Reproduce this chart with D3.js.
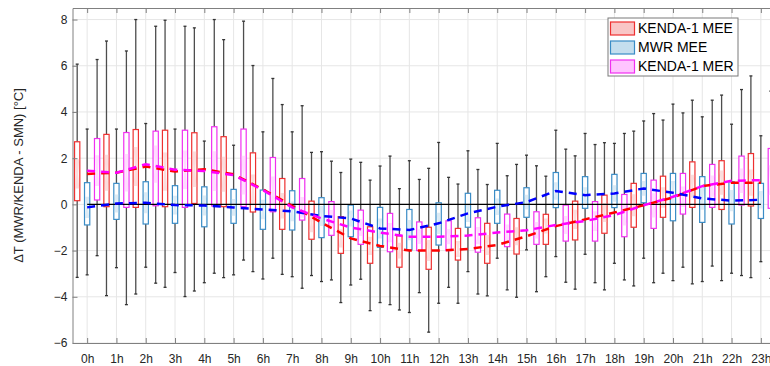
<!DOCTYPE html>
<html>
<head>
<meta charset="utf-8">
<script src="https://cdn.jsdelivr.net/npm/d3@7"></script>
<style>
  body { margin: 0; background: #fff; }
  svg { display: block; font-family: "Liberation Sans", Arial, sans-serif; }
  .axis text { fill: #262626; font-size: 12px; }
  .axis path, .axis line { stroke: #808080; }
</style>
</head>
<body>
<svg id="chart" width="770" height="366"></svg>
<script>
// data
const hours = d3.range(0, 24);
const yTicks = [-6, -4, -2, 0, 2, 4, 6, 8];
const seriesNames = ["KENDA-1 MEE", "MWR MEE", "KENDA-1 MER"];

// KENDA-1 MEE
const meeHigh = [6.07, 7.07, 8.0, 7.97, 7.64, 7.13, 6.01, 4.32, 2.25, 1.38, 1.05, 0.68, 1.56, 0.88, 0.86, 1.73, 1.22, 2.1, 2.67, 3.17, 3.65, 4.51, 4.73, 5.56];
const meeQ3 = [2.71, 3.03, 3.24, 3.21, 3.10, 2.93, 2.23, 1.12, 0.14, -0.53, -0.97, -1.36, -0.99, -1.04, -0.82, -0.61, -0.43, 0.14, 0.40, 0.91, 1.22, 1.84, 1.89, 2.20];
const meeMed = [1.32, 1.37, 1.64, 1.42, 1.52, 1.3, 0.65, -0.06, -0.79, -1.47, -1.8, -2.0, -2.0, -1.93, -1.76, -1.38, -0.94, -0.65, -0.35, -0.04, 0.3, 0.79, 0.94, 0.94];
const meeQ1 = [0.16, -0.10, -0.13, -0.10, 0.04, -0.10, -0.33, -1.08, -1.51, -2.12, -2.55, -2.72, -2.81, -2.41, -2.55, -2.15, -1.73, -1.54, -1.25, -0.99, -0.56, -0.13, -0.22, -0.07];
const meeLow = [-3.16, -3.95, -3.88, -3.59, -3.75, -3.17, -2.91, -3.03, -3.08, -4.25, -4.6, -4.57, -5.53, -4.28, -3.96, -4.02, -3.13, -3.67, -3.70, -3.53, -2.98, -3.44, -3.30, -3.17];

// MWR MEE
const mwrHigh = [3.26, 3.26, 3.5, 3.26, 2.74, 2.56, 3.14, 3.14, 2.28, 1.96, 1.66, 1.89, 2.68, 2.32, 2.64, 2.13, 3.21, 3.07, 2.64, 3.61, 4.34, 3.79, 3.47, 2.97];
const mwrQ3 = [0.94, 0.91, 0.98, 0.81, 0.76, 0.65, 0.62, 0.59, 0.29, -0.03, -0.13, -0.22, 0.07, 0.48, 0.61, 0.72, 1.38, 1.20, 1.30, 1.34, 1.34, 1.20, 0.98, 0.91];
const mwrMed = [-0.13, 0.04, 0.07, -0.03, -0.05, -0.13, -0.22, -0.3, -0.5, -0.61, -1.04, -1.11, -0.82, -0.39, -0.1, 0.1, 0.58, 0.4, 0.47, 0.69, 0.5, 0.26, 0.16, 0.2];
const mwrQ1 = [-0.89, -0.65, -0.85, -0.82, -0.97, -0.82, -1.08, -1.11, -1.44, -1.40, -1.86, -1.97, -1.76, -0.99, -0.82, -0.56, -0.14, -0.17, -0.14, 0.07, -0.71, -0.78, -0.85, -0.61];
const mwrLow = [-3.05, -2.74, -2.72, -2.95, -3.39, -3.05, -3.23, -3.13, -3.34, -3.49, -4.25, -4.68, -4.28, -2.91, -2.33, -1.97, -2.26, -2.16, -2.55, -2.33, -3.30, -3.34, -2.98, -2.48];

// KENDA-1 MER
const merHigh = [6.27, 6.64, 7.71, 7.71, 8.0, 7.93, 5.45, 4.27, 1.87, 1.82, 2.09, 1.08, 1.17, 1.51, 1.24, 1.67, 2.39, 2.59, 3.07, 3.93, 3.96, 4.51, 4.97, 4.9];
const merQ3 = [2.85, 3.11, 3.17, 3.21, 3.36, 3.26, 2.03, 1.12, 0.12, -0.25, -0.39, -0.76, -0.71, -0.58, -0.42, -0.32, -0.03, 0.12, 0.43, 1.05, 1.34, 1.73, 2.09, 2.42];
const merMed = [1.46, 1.37, 1.74, 1.5, 1.44, 1.27, 0.62, -0.13, -0.61, -1.0, -1.22, -1.4, -1.4, -1.35, -1.22, -1.12, -0.89, -0.72, -0.46, -0.04, 0.33, 0.79, 1.02, 1.05];
const merQ1 = [0.19, -0.13, -0.06, -0.13, -0.07, -0.10, -0.32, -0.68, -1.34, -1.73, -2.05, -2.0, -2.0, -2.07, -1.83, -1.73, -1.59, -1.59, -1.40, -1.04, -0.42, -0.13, -0.03, -0.17];
const merLow = [-2.22, -4.34, -3.41, -3.99, -2.98, -2.41, -2.33, -3.63, -3.27, -3.24, -4.34, -3.82, -3.59, -3.88, -3.70, -3.78, -3.37, -3.39, -3.27, -3.39, -2.72, -2.67, -3.08, -3.2];

// styles
const boxColors = ["#ee3030", "#3a8cc6", "#f030f0"];
const lightColors = ["#f9c6c6", "#c4deee", "#ffc4ff"];
const lineColors = ["#ff0000", "#0000ff", "#ff00ff"];
const offsets = [-0.34, 0, 0.34];

const series = [
  { low: meeLow, q1: meeQ1, med: meeMed, q3: meeQ3, high: meeHigh },
  { low: mwrLow, q1: mwrQ1, med: mwrMed, q3: mwrQ3, high: mwrHigh },
  { low: merLow, q1: merQ1, med: merMed, q3: merQ3, high: merHigh }
];

const svg = d3.select("#chart");
const x = d3.scaleLinear().domain([-0.5, 23.5]).range([72.5, 775.5]);
const y = d3.scaleLinear().domain([-6, 8.5]).range([343, 8]);

// grid
const grid = svg.append("g");
grid.selectAll(".vg").data(hours).enter().append("line")
  .attr("x1", d => x(d)).attr("x2", d => x(d))
  .attr("y1", y(8.5)).attr("y2", y(-6))
  .attr("stroke", "#e6e6e6");
grid.selectAll(".hg").data(yTicks).enter().append("line")
  .attr("x1", x(-0.5)).attr("x2", x(23.5))
  .attr("y1", d => y(d)).attr("y2", d => y(d))
  .attr("stroke", "#e6e6e6");

// boxes
const halfW = 0.09;
series.forEach((s, k) => {
  const g = svg.append("g");
  const rows = hours.map(h => ({ h: h + offsets[k], low: s.low[h], q1: s.q1[h], med: s.med[h], q3: s.q3[h], high: s.high[h] }));

  // whiskers
  g.selectAll(".wu").data(rows).enter().append("line")
    .attr("x1", d => x(d.h)).attr("x2", d => x(d.h))
    .attr("y1", d => y(d.q3)).attr("y2", d => y(d.high))
    .attr("stroke", "#4d4d4d").attr("stroke-width", 1.3);
  g.selectAll(".wl").data(rows).enter().append("line")
    .attr("x1", d => x(d.h)).attr("x2", d => x(d.h))
    .attr("y1", d => y(d.q1)).attr("y2", d => y(d.low))
    .attr("stroke", "#4d4d4d").attr("stroke-width", 1.3);
  ["high", "low"].forEach(key => {
    g.selectAll(".cap-" + key).data(rows).enter().append("line")
      .attr("x1", d => x(d.h) - 1.5).attr("x2", d => x(d.h) + 1.5)
      .attr("y1", d => y(d[key])).attr("y2", d => y(d[key]))
      .attr("stroke", "#333").attr("stroke-width", 1.3);
  });

  // box outline
  g.selectAll(".box").data(rows).enter().append("rect")
    .attr("x", d => x(d.h - halfW))
    .attr("width", d => x(d.h + halfW) - x(d.h - halfW))
    .attr("y", d => y(d.q3))
    .attr("height", d => y(d.q1) - y(d.q3))
    .attr("fill", "#fff")
    .attr("stroke", boxColors[k]).attr("stroke-width", 1.2);

  // notch shading around the median
  g.selectAll(".notch").data(rows).enter().append("path")
    .attr("d", d => {
      const n = 0.25 * (d.q3 - d.q1);
      const l = x(d.h - halfW) + 0.6, r = x(d.h + halfW) - 0.6, w = r - l;
      return `M${l},${y(d.med + n)} L${l + w * 0.25},${y(d.med)} L${l},${y(d.med - n)}` +
             ` L${r},${y(d.med - n)} L${r - w * 0.25},${y(d.med)} L${r},${y(d.med + n)}Z`;
    })
    .attr("fill", lightColors[k]).attr("opacity", 0.6);
});

// zero line
svg.append("line")
  .attr("x1", x(0)).attr("x2", x(23))
  .attr("y1", y(0)).attr("y2", y(0))
  .attr("stroke", "#000").attr("stroke-width", 1.3);

// dashed median lines at the full hours
const medLine = d3.line().x((d, i) => x(hours[i])).y(d => y(d));
series.forEach((s, k) => {
  svg.append("path")
    .attr("d", medLine(s.med))
    .attr("fill", "none")
    .attr("stroke", lineColors[k])
    .attr("stroke-width", 2.5)
    .attr("stroke-dasharray", "8,6");
});

// axes
svg.append("g").attr("class", "axis")
  .attr("transform", `translate(0,${y(-6)})`)
  .call(d3.axisBottom(x).tickValues(hours).tickFormat(d => d + "h").tickSize(-5).tickSizeOuter(0).tickPadding(11));
svg.append("g").attr("class", "axis")
  .attr("transform", `translate(0,${y(8.5)})`)
  .call(d3.axisTop(x).tickValues(hours).tickFormat("").tickSize(-5).tickSizeOuter(0));
svg.append("g").attr("class", "axis")
  .attr("transform", `translate(${x(-0.5)},0)`)
  .call(d3.axisLeft(y).tickValues(yTicks).tickSize(-5).tickSizeOuter(0).tickPadding(5));

// y label
svg.append("text")
  .attr("transform", `translate(20,${(y(8.5) + y(-6)) / 2}) rotate(-90)`)
  .attr("text-anchor", "middle")
  .attr("dominant-baseline", "middle")
  .attr("fill", "#262626")
  .attr("font-size", "13px")
  .text("\u0394T (MWR/KENDA - SMN) [\u00B0C]");

// legend
const legend = svg.append("g").attr("transform", "translate(608,18)");
legend.append("rect")
  .attr("width", 130).attr("height", 58)
  .attr("fill", "#fff").attr("stroke", "#7a7a7a");
seriesNames.forEach((name, k) => {
  legend.append("rect")
    .attr("x", 2.5).attr("y", 4 + k * 19)
    .attr("width", 24).attr("height", 13)
    .attr("fill", lightColors[k]).attr("stroke", boxColors[k]).attr("stroke-width", 1.2);
  legend.append("text")
    .attr("x", 30).attr("y", 11 + k * 19)
    .attr("dominant-baseline", "middle")
    .attr("font-size", "14px").attr("fill", "#000")
    .text(name);
});
</script>
</body>
</html>
